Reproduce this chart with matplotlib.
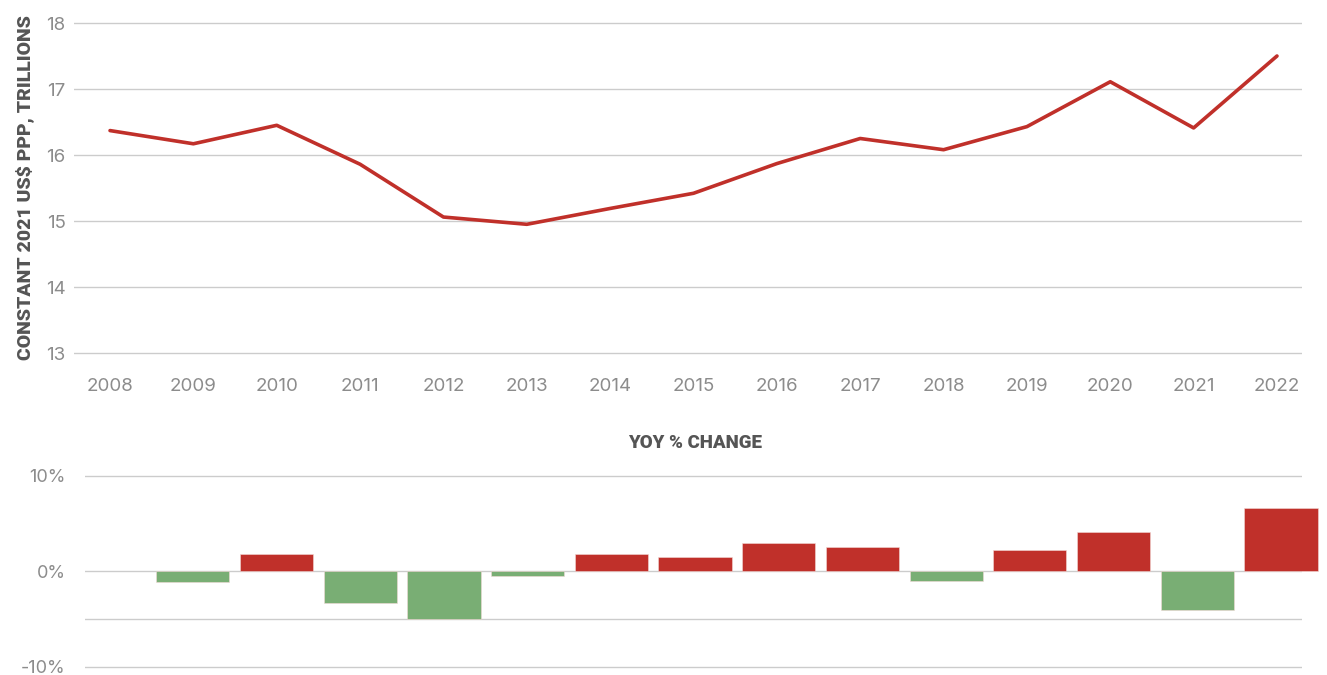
# Two-panel chart: level series (line) on top, year-on-year % change (bars) below.
import matplotlib
matplotlib.use("Agg")
import matplotlib.pyplot as plt

years  = [2008, 2009, 2010, 2011, 2012, 2013, 2014, 2015,
          2016, 2017, 2018, 2019, 2020, 2021, 2022]
level  = [16.37, 16.17, 16.45, 15.86, 15.06, 14.95, 15.19, 15.42,
          15.87, 16.25, 16.08, 16.43, 17.11, 16.41, 17.50]   # constant 2021 US$ PPP, trillions
yoy_years = years[1:]
yoy_pct   = [-1.1, 1.8, -3.4, -5.0, -0.55, 1.8, 1.5, 2.9, 2.5, -1.0, 2.2, 4.1, -4.05, 6.6]

RED   = "#c0302a"
GREEN = "#79ae74"
GRID  = "#cccccc"
TICK  = "#8c8c8c"
DARK  = "#555555"
W, H = 1327, 675

fig = plt.figure(figsize=(W / 100, H / 100), dpi=100)

def px_axes(left, right, top, bottom):
    return fig.add_axes([left / W, 1 - bottom / H, (right - left) / W, (bottom - top) / H])

def style_ticks(a):
    for lab in a.get_xticklabels() + a.get_yticklabels():
        lab.set_family(["Inter", "DejaVu Sans"])

# ---- top: level line ----
ppu = 66.0   # pixels per trillion
ax = px_axes(74, 1302, 23 - 0.1 * ppu, 353 + 0.1 * ppu)
ax.set_ylim(12.9, 18.1)
ax.set_xlim(2008 - 36 / 83.3, 2022 + 25 / 83.3)
ax.set_yticks([13, 14, 15, 16, 17, 18])
ax.set_xticks(years)
ax.yaxis.grid(True, color=GRID, lw=1.0)
ax.set_axisbelow(True)
ax.plot(years, level, color=RED, lw=2.6, solid_capstyle="round", zorder=3)
for sp in ax.spines.values():
    sp.set_visible(False)
ax.tick_params(length=0, labelsize=13.5, labelcolor=TICK)
ax.tick_params(axis="y", pad=6)
ax.tick_params(axis="x", pad=13)
style_ticks(ax)
fig.text(25 / W, 1 - 188 / H, "CONSTANT 2021 US$ PPP, TRILLIONS", rotation=90,
         ha="center", va="center", fontsize=14, fontweight="heavy", color=DARK,
         family=["Roboto", "DejaVu Sans"])

# ---- bottom: YoY % change bars ----
ppp = 9.55   # pixels per percent
zero = 571
bx = px_axes(85, 1302, zero - 10.3 * ppp, zero + 10.3 * ppp)
bx.set_ylim(-10.3, 10.3)
bx.set_xlim(2008 - 24 / 83.5, 2022 + 21 / 83.5)
bx.set_yticks([-10, -5, 0, 10])
bx.set_yticklabels(["-10%", "", "0%", "10%"])
bx.set_xticks([])
bx.yaxis.grid(True, color=GRID, lw=1.0)
bx.set_axisbelow(True)
colors = [RED if v >= 0 else GREEN for v in yoy_pct]
bx.bar(yoy_years, yoy_pct, width=0.875, color=colors, edgecolor="#f2d9d6",
       linewidth=0.4, clip_on=False, zorder=3)
for sp in bx.spines.values():
    sp.set_visible(False)
bx.tick_params(length=0, labelsize=13, labelcolor=TICK, pad=14)
style_ticks(bx)
fig.text(695 / W, 1 - 443 / H, "YOY % CHANGE", ha="center", va="center",
         fontsize=13.5, fontweight="heavy", color=DARK, family=["Roboto", "DejaVu Sans"])

fig.savefig("out.png", dpi=100)
